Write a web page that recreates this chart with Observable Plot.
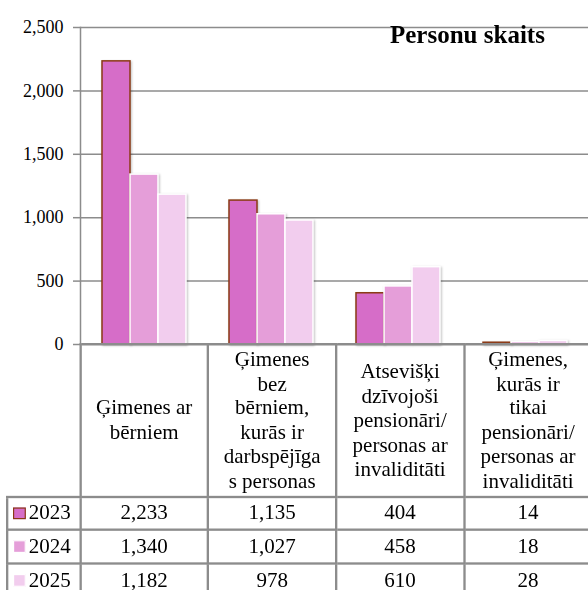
<!DOCTYPE html>
<html>
<head>
<meta charset="utf-8">
<script src="https://cdn.jsdelivr.net/npm/d3@7"></script>
<script src="https://cdn.jsdelivr.net/npm/@observablehq/plot@0.6"></script>
<style>
  html, body { margin: 0; padding: 0; background: #fff; }
  #wrap { position: relative; width: 588px; height: 590px; overflow: hidden; font-family: 'Liberation Serif'; color: #000; }
  #title { position: absolute; left: 390px; top: 22px; font-size: 18px; line-height: 18px; font-weight: bold; white-space: nowrap; font-family: 'Liberation Serif'; transform: scale(1.3889); transform-origin: 0 0; }
  #tbl { position: absolute; left: 6px; top: 343px; border-collapse: collapse; table-layout: fixed; font-size: 18px; line-height: 20.83px; font-family: 'Liberation Serif'; transform: scale(1.16667); transform-origin: 0 0; }
  #tbl td { border: 2px solid #8c8c8c; text-align: center; padding: 0; font-family: 'Liberation Serif'; font-size: 18px; }
  #tbl td.empty { border-top: none; border-left: none; border-bottom: 2px solid #8c8c8c; }
  #tbl tr.head td { height: 128.6px; vertical-align: middle; }
  #tbl tr.row td { height: 26.6px; }
  #tbl td.leg { text-align: left; padding-left: 4.3px; white-space: nowrap; }
  .mk { display: inline-block; width: 8.6px; height: 8.6px; margin-right: 2.6px; box-sizing: content-box; vertical-align: 0px; }
  #chart svg text { font-family: 'Liberation Serif'; }
</style>
</head>
<body>
<div id="wrap">
  <div id="chart"></div>
  <div id="title"></div>
  <table id="tbl"></table>
</div>
<script>
const title = "Personu skaits";
const categories = [
  "Ģimenes ar bērniem",
  "Ģimenes bez bērniem, kurās ir darbspējīgas personas",
  "Atsevišķi dzīvojoši pensionāri/ personas ar invaliditāti",
  "Ģimenes, kurās ir tikai pensionāri/ personas ar invaliditāti"
];
const categoryLines = [
  ["Ģimenes ar", "bērniem"],
  ["Ģimenes", "bez", "bērniem,", "kurās ir", "darbspējīga", "s personas"],
  ["Atsevišķi", "dzīvojoši", "pensionāri/", "personas ar", "invaliditāti"],
  ["Ģimenes,", "kurās ir", "tikai", "pensionāri/", "personas ar", "invaliditāti"]
];
const years = ["2023", "2024", "2025"];
const values2023 = [2233, 1135, 404, 14];
const values2024 = [1340, 1027, 458, 18];
const values2025 = [1182, 978, 610, 28];
const yTicks = [0, 500, 1000, 1500, 2000, 2500];
const colors = ["#d66dc8", "#e59ed9", "#f2cdee"];
const strokes = ["#8b3a14", "#ffffff", "#ffffff"];

const series = [values2023, values2024, values2025];
const data = years.flatMap((yr, i) => categories.map((c, j) => ({category: c, year: yr, value: series[i][j]})));

const FONT = "Liberation Serif";
const grid = "#8c8c8c";
const fmt = d3.format(",");

const chart = Plot.plot({
  width: 588,
  height: 346,
  marginLeft: 79,
  marginRight: 0,
  marginTop: 27,
  marginBottom: 2,
  style: {fontFamily: FONT, fontSize: "18px", color: "#000", background: "#fff", overflow: "visible"},
  fx: {domain: categories, padding: 0, axis: null, label: null},
  x: {domain: years, paddingInner: 0, paddingOuter: 0.745, axis: null, label: null},
  y: {domain: [0, 2500], label: null},
  color: {domain: years, range: colors},
  marks: [
    Plot.gridY(yTicks, {stroke: grid, strokeOpacity: 1, strokeWidth: 1.5}),
    Plot.axisY(yTicks, {tickFormat: fmt, tickSize: 7, tickPadding: 10, stroke: grid, strokeWidth: 1.5, fontSize: 18, label: null}),
    Plot.frame({anchor: "left", stroke: grid, strokeWidth: 1.5, facetAnchor: "left"}),
    Plot.barY(data, {filter: d => d.year === years[0], fx: "category", x: "year", y: "value", fill: "year", stroke: strokes[0], strokeWidth: 1.5, imageFilter: "drop-shadow(1px 1px 1px rgba(0,0,0,0.25))"}),
    Plot.barY(data, {filter: d => d.year !== years[0], fx: "category", x: "year", y: "value", fill: "year", stroke: strokes[1], strokeWidth: 1.5, imageFilter: "drop-shadow(1px 1px 1px rgba(0,0,0,0.25))"})
  ]
});
document.getElementById("chart").appendChild(chart);
document.getElementById("title").textContent = title;

const tbl = document.getElementById("tbl");
const colgroup = document.createElement("colgroup");
[62.6, 109.7, 109.7, 109.7, 109.7].forEach(w => { const c = document.createElement("col"); c.style.width = w + "px"; colgroup.appendChild(c); });
tbl.appendChild(colgroup);
const head = document.createElement("tr");
head.className = "head";
const e = document.createElement("td"); e.className = "empty"; head.appendChild(e);
categoryLines.forEach(lines => {
  const td = document.createElement("td");
  lines.forEach((l, k) => { if (k) td.appendChild(document.createElement("br")); td.appendChild(document.createTextNode(l)); });
  head.appendChild(td);
});
tbl.appendChild(head);
years.forEach((yr, i) => {
  const tr = document.createElement("tr");
  tr.className = "row";
  const lg = document.createElement("td");
  lg.className = "leg";
  const mk = document.createElement("span");
  mk.className = "mk";
  mk.style.background = colors[i];
  mk.style.border = "1px solid " + strokes[i];
  lg.appendChild(mk);
  lg.appendChild(document.createTextNode(yr));
  tr.appendChild(lg);
  series[i].forEach(v => { const td = document.createElement("td"); td.textContent = fmt(v); tr.appendChild(td); });
  tbl.appendChild(tr);
});
</script>
</body>
</html>
